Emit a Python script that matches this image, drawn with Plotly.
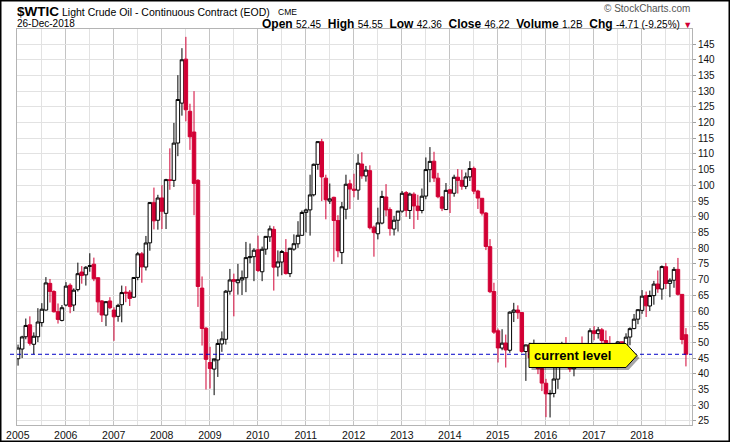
import pandas as pd
import plotly.graph_objects as go

# ---- Monthly OHLC, $WTIC Jan-2005 .. Dec-2018 ----
opens = [
    44.8, 47.9, 51.8, 55.6, 49.4, 51.8, 56.3, 60.3, 68.8, 66.2, 59.8, 57.0,   # 2005
    61.9, 68.2, 61.9, 66.8, 72.4, 71.5, 74.2, 74.9, 70.6, 63.2, 58.7, 63.2,   # 2006
    60.3, 58.3, 62.0, 66.0, 66.0, 64.4, 70.7, 78.2, 74.0, 81.7, 94.5, 88.9,   # 2007
    96.0, 91.1, 101.8, 101.6, 113.5, 126.2, 140.2, 123.6, 117.0, 101.6, 67.3, 54.5,  # 2008
    43.6, 41.5, 44.4, 49.5, 51.0, 66.3, 70.0, 69.0, 69.9, 70.6, 77.0, 77.3,   # 2009
    79.5, 72.5, 79.7, 83.6, 86.0, 74.0, 75.6, 78.6, 71.9, 79.7, 81.4, 84.1,   # 2010
    91.4, 92.2, 97.0, 106.7, 113.9, 102.3, 95.0, 96.2, 88.8, 78.6, 92.4, 100.5,  # 2011
    98.8, 98.5, 106.8, 103.0, 104.7, 86.7, 84.6, 88.0, 96.3, 92.3, 86.1, 88.9,  # 2012
    91.8, 97.7, 92.0, 97.2, 93.4, 92.0, 96.6, 105.0, 107.7, 102.3, 96.3, 92.3,  # 2013
    98.6, 97.5, 102.6, 101.6, 99.7, 102.7, 105.4, 98.2, 95.9, 91.2, 80.5, 66.2,  # 2014
    53.7, 48.2, 49.8, 47.5, 59.6, 60.3, 59.5, 47.1, 49.2, 45.1, 46.6, 41.7,   # 2015
    37.0, 33.6, 33.75, 38.3, 45.9, 49.1, 48.3, 41.6, 44.7, 48.2, 46.9, 49.4,  # 2016
    53.7, 52.8, 54.0, 50.6, 49.3, 48.3, 46.0, 50.2, 47.2, 51.7, 54.4, 57.4,   # 2017
    60.2, 64.9, 61.6, 64.9, 68.6, 67.0, 74.1, 68.8, 69.8, 73.25, 65.3, 52.45, # 2018
]
highs = [
    49.3, 52.1, 57.6, 58.3, 53.2, 60.9, 62.5, 70.8, 70.2, 66.6, 62.4, 61.9,
    69.2, 68.8, 67.2, 75.4, 74.3, 74.3, 78.4, 77.0, 70.7, 63.5, 62.8, 64.4,
    61.2, 62.3, 68.1, 67.9, 66.7, 70.7, 78.8, 78.8, 83.9, 94.7, 99.3, 97.0,
    100.1, 102.1, 111.8, 119.9, 135.1, 143.7, 147.3, 126.0, 130.0, 102.0, 71.0, 54.9,
    48.6, 43.9, 51.0, 53.5, 66.7, 73.4, 71.9, 75.0, 72.9, 82.0, 81.5, 80.0,
    84.0, 80.5, 83.9, 87.2, 87.0, 79.3, 79.4, 82.9, 80.1, 84.4, 88.6, 92.0,
    92.6, 103.4, 106.95, 113.9, 114.8, 103.4, 100.6, 96.4, 90.5, 94.7, 103.4, 101.8,
    103.7, 109.95, 110.55, 106.2, 106.4, 87.2, 92.9, 98.3, 100.4, 93.0, 90.3, 91.5,
    98.2, 98.2, 97.7, 97.8, 97.0, 99.0, 108.9, 112.2, 110.7, 104.0, 96.6, 100.75,
    98.9, 103.4, 105.2, 104.99, 104.1, 107.7, 106.0, 98.6, 95.9, 91.5, 82.9, 69.0,
    54.4, 54.2, 52.5, 59.9, 62.6, 61.8, 59.7, 49.3, 49.9, 50.9, 48.4, 42.0,
    38.4, 34.8, 41.9, 46.8, 50.2, 51.7, 49.2, 48.75, 48.5, 51.9, 49.2, 54.5,
    55.2, 54.9, 54.6, 53.8, 52.0, 48.5, 50.4, 50.2, 52.9, 54.8, 59.05, 60.5,
    66.66, 66.2, 66.5, 69.6, 72.9, 74.5, 75.3, 70.4, 74.0, 76.9, 65.3, 54.55,
]
lows = [
    42.6, 45.0, 51.0, 49.0, 46.2, 50.1, 55.0, 60.1, 62.7, 59.5, 56.0, 56.7,
    61.5, 59.3, 60.0, 66.2, 68.7, 68.1, 72.5, 69.5, 59.5, 56.5, 55.2, 60.6,
    50.5, 56.6, 56.4, 62.8, 61.6, 64.2, 69.8, 69.0, 72.9, 79.2, 86.0, 85.9,
    86.1, 86.1, 98.6, 99.5, 109.3, 122.2, 120.4, 111.3, 90.5, 61.3, 49.0, 35.0,
    35.3, 33.2, 39.0, 47.0, 49.3, 65.2, 58.3, 65.2, 65.1, 66.0, 75.2, 69.5,
    72.4, 69.5, 77.9, 82.0, 66.5, 71.0, 71.4, 71.6, 70.8, 79.2, 80.1, 84.0,
    85.0, 84.0, 96.5, 105.0, 95.0, 89.2, 94.1, 75.7, 77.1, 74.95, 89.2, 92.5,
    96.2, 95.4, 102.1, 101.2, 86.0, 77.3, 82.8, 87.6, 90.2, 84.0, 84.05, 85.3,
    91.3, 90.0, 89.3, 86.1, 89.0, 91.1, 95.6, 101.0, 101.1, 95.9, 91.8, 92.4,
    91.2, 96.4, 97.4, 98.6, 98.8, 101.4, 97.2, 92.5, 90.4, 79.4, 65.7, 52.7,
    43.6, 47.5, 42.0, 46.7, 56.5, 57.5, 46.7, 37.75, 43.2, 43.0, 39.9, 34.5,
    26.2, 26.1, 32.5, 35.2, 43.0, 45.8, 40.6, 39.2, 42.5, 46.6, 42.2, 49.2,
    50.7, 51.2, 47.1, 48.2, 43.8, 42.05, 44.2, 45.6, 45.6, 49.1, 54.2, 55.8,
    59.1, 58.1, 60.0, 62.0, 65.8, 63.6, 67.0, 64.4, 67.4, 64.9, 49.4, 42.36,
]
closes = [
    48.2, 51.75, 55.4, 49.72, 51.97, 56.5, 60.57, 68.94, 66.24, 59.76, 57.32, 61.04,
    67.92, 61.41, 66.63, 71.88, 71.29, 73.93, 74.4, 70.26, 62.91, 58.73, 62.97, 61.05,
    58.14, 61.79, 65.87, 65.71, 64.01, 70.68, 78.21, 74.04, 81.66, 94.53, 88.71, 95.98,
    91.75, 101.84, 101.58, 113.46, 127.35, 140.0, 124.08, 115.46, 100.64, 67.81, 54.43, 44.6,
    41.68, 44.76, 49.66, 51.12, 66.31, 69.89, 69.45, 69.96, 70.61, 77.0, 77.28, 79.36,
    72.89, 79.66, 83.76, 86.15, 73.97, 75.63, 78.95, 71.92, 79.97, 81.43, 84.11, 91.38,
    92.19, 96.97, 106.72, 113.93, 102.7, 95.42, 95.7, 88.81, 79.2, 93.19, 100.36, 98.83,
    98.48, 107.07, 103.02, 104.87, 86.53, 84.96, 88.06, 96.47, 92.19, 86.24, 88.91, 91.82,
    97.49, 92.05, 97.23, 93.46, 91.97, 96.56, 105.03, 107.65, 102.33, 96.38, 92.72, 98.42,
    97.49, 102.59, 101.58, 99.74, 102.71, 105.37, 98.17, 95.96, 91.16, 80.54, 66.15, 53.27,
    48.24, 49.76, 47.6, 59.63, 60.3, 59.47, 47.12, 49.2, 45.09, 46.59, 41.65, 37.04,
    33.62, 33.75, 38.34, 45.92, 49.1, 48.33, 41.6, 44.7, 48.24, 46.86, 49.44, 53.72,
    52.81, 54.01, 50.6, 49.33, 48.32, 46.04, 50.17, 47.23, 51.67, 54.38, 57.4, 60.42,
    64.73, 61.64, 64.94, 68.57, 67.04, 74.15, 68.76, 69.8, 73.25, 65.31, 50.93, 46.22,
]
first_month = "2005-01-01"
year_labels = [str(y) for y in range(2005, 2019)]
y_ticks = list(range(25, 150, 5))
title_symbol = "$WTIC"
title_name = "Light Crude Oil - Continuous Contract (EOD)"
title_exch = "CME"
date_label = "26-Dec-2018"
info_labels = ["Open", "High", "Low", "Close", "Volume", "Chg"]
info_values = ["52.45", "54.55", "42.36", "46.22", "1.2B", "-4.71 (-9.25%)"]
callout_text = "current level"

dates = pd.date_range(first_month, periods=len(closes), freq="MS") + pd.Timedelta(days=2)
year_ticks = [f"{y}-01-01" for y in year_labels]

# ---- layout geometry (pixels) ----
W, H = 730, 442
L, R, T, B = 17, 38, 29, 17
PW, PH = W - L - R, H - T - B
def px(x):
    return (x - L) / PW
def py(y):
    return (H - B - y) / PH

RED = "#d20034"
FONT = "Arial, Liberation Sans, sans-serif"

fig = go.Figure()
fig.add_trace(go.Candlestick(
    x=dates, open=opens, high=highs, low=lows, close=closes,
    increasing=dict(line=dict(color="black", width=1), fillcolor="white"),
    decreasing=dict(line=dict(color=RED, width=1), fillcolor=RED),
    whiskerwidth=0, showlegend=False, hoverinfo="skip",
))

def poly(pts, dx=0, dy=0):
    return "M " + " L ".join(f"{px(x+dx):.5f},{py(y+dy):.5f}" for x, y in pts) + " Z"

callout = [(529, 343.5), (626, 343.5), (637, 355.5), (626, 367.5), (529, 367.5)]

shapes = [
    dict(type="line", xref="paper", yref="y", x0=px(10), x1=1, y0=closes[-1], y1=closes[-1],
         line=dict(color="#0000c8", width=1, dash="4px,3px"), layer="above"),
    dict(type="path", xref="paper", yref="paper", path=poly(callout, 2.5, 2.5),
         fillcolor="rgba(0,0,0,0.35)", line=dict(width=0), layer="above"),
    dict(type="path", xref="paper", yref="paper", path=poly(callout),
         fillcolor="#ffff00", line=dict(color="black", width=1), layer="above"),
    dict(type="rect", xref="paper", yref="paper", x0=px(0.75), x1=px(729.25), y0=py(441.25), y1=py(0.75),
         line=dict(color="black", width=1.5), layer="above"),
]

info = "&nbsp;&nbsp;".join(
    f"<b>{l}</b> <span style='font-size:10px'>{v}</span>" for l, v in zip(info_labels, info_values)
) + f" <span style='color:{RED};font-size:9px'>▼</span>"

annotations = [
    dict(text=f"<b>{title_symbol}</b>", x=px(15), y=py(12), xanchor="left", yanchor="middle",
         font=dict(size=13.5, color="black", family=FONT)),
    dict(text=title_name, x=px(59.5), y=py(12.5), xanchor="left", yanchor="middle",
         font=dict(size=10.5, color="black", family=FONT)),
    dict(text=title_exch, x=px(277), y=py(11.5), xanchor="left", yanchor="middle",
         font=dict(size=8.5, color="black", family=FONT), borderpad=0),
    dict(text=date_label, x=px(15), y=py(23), xanchor="left", yanchor="middle",
         font=dict(size=10, color="black", family=FONT)),
    dict(text=info, x=px(693), y=py(23.5), xanchor="right", yanchor="middle",
         font=dict(size=12, color="black", family=FONT), borderpad=0),
    dict(text="© StockCharts.com", x=px(692), y=py(8), xanchor="right", yanchor="middle",
         font=dict(size=10, color="#555555", family=FONT)),
    dict(text=f"<b>{callout_text}</b>", x=px(532), y=py(355.5), xanchor="left", yanchor="middle",
         font=dict(size=13, color="black", family=FONT)),
]
for a in annotations:
    a.update(xref="paper", yref="paper", showarrow=False)

fig.update_layout(
    width=W, height=H,
    margin=dict(l=L, r=R, t=T, b=B, pad=0, autoexpand=False),
    paper_bgcolor="white", plot_bgcolor="white",
    shapes=shapes, annotations=annotations,
    showlegend=False, boxgap=0.05, boxgroupgap=0,
    font=dict(family=FONT, color="#111111"),
    xaxis=dict(
        type="date", range=["2004-12-26", "2019-01-18"],
        rangeslider=dict(visible=False),
        tickmode="array", tickvals=year_ticks, ticktext=year_labels,
        showgrid=True, gridcolor="#c4c4c4", gridwidth=1,
        minor=dict(tickmode="linear", tick0=first_month, dtick="M6",
                   showgrid=True, gridcolor="#e2e2e2"),
        showline=True, linecolor="#b4b4b4", mirror=True,
        ticks="", tickfont=dict(size=10.5, color="#111111", family=FONT),
        zeroline=False, fixedrange=True,
    ),
    yaxis=dict(
        side="right", range=[23.7, 149.8],
        tickvals=y_ticks, ticktext=[str(v) for v in y_ticks],
        showgrid=True, gridcolor="#e2e2e2", gridwidth=1,
        showline=True, linecolor="#b4b4b4", mirror=True,
        ticks="outside", ticklen=3, tickcolor="#a0a0a0",
        tickfont=dict(size=10, color="#111111", family=FONT),
        zeroline=False, fixedrange=True,
    ),
)

# the page's default 8px body margin would shift the 730x442 figure off the window
fig.write_html("out.html", config={"displayModeBar": False},
               post_script="document.body.style.margin='0';")
